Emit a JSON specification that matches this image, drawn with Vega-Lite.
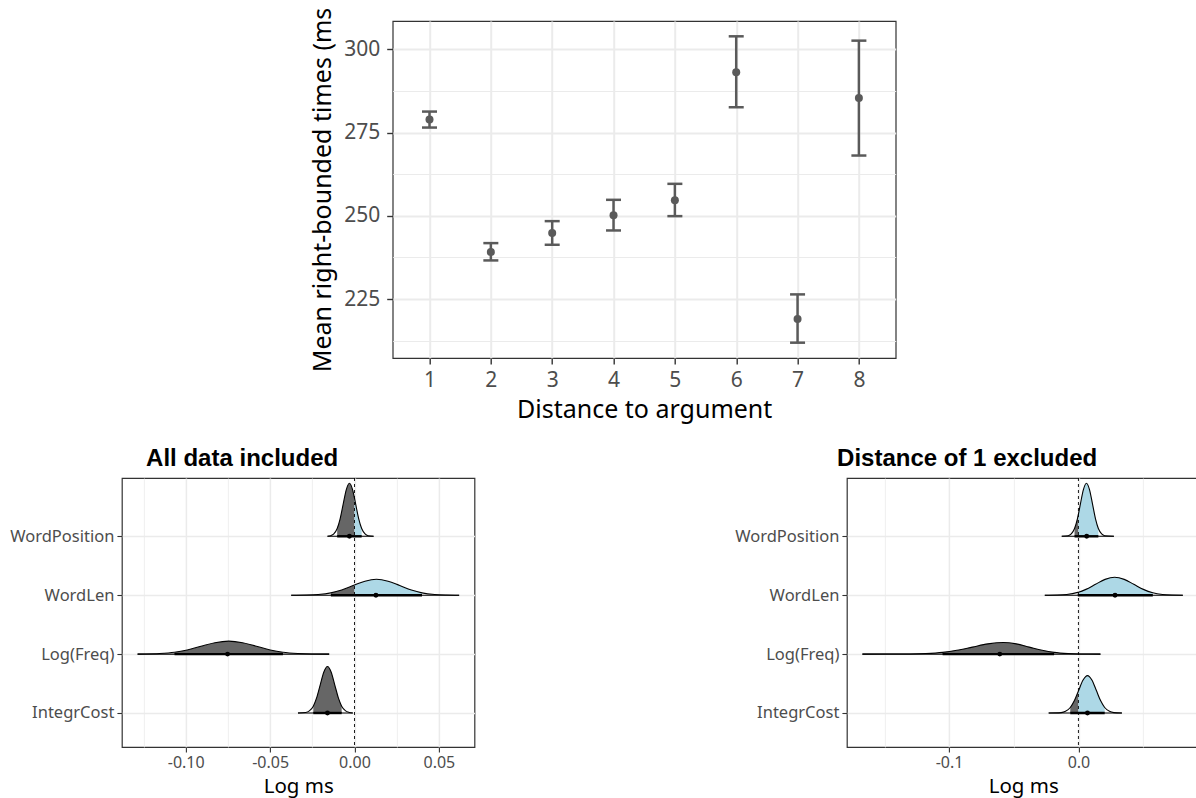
{
  "$schema": "https://vega.github.io/schema/vega-lite/v6.json",
  "background": "white",
  "padding": {"left": 8.5, "top": 6, "right": 0, "bottom": 0},
  "config": {
    "font": "Noto Sans",
    "view": {"stroke": "#333333", "strokeWidth": 1.2},
    "axis": {"domain": false, "tickColor": "#333333", "labelColor": "#4D4D4D", "titleColor": "#000000", "titleFontWeight": "normal", "gridColor": "#EBEBEB", "labelFont": "Noto Sans", "titleFont": "Noto Sans"},
    "title": {"font": "Liberation Sans", "fontWeight": "bold", "fontSize": 24, "color": "#000000", "anchor": "middle", "frame": "bounds", "offset": 7}
  },
  "datasets": {
    "means": [
      {"distance": 1, "mean": 278.9, "lower": 276.5, "upper": 281.3},
      {"distance": 2, "mean": 239.1, "lower": 236.6, "upper": 241.8},
      {"distance": 3, "mean": 244.8, "lower": 241.3, "upper": 248.4},
      {"distance": 4, "mean": 250.2, "lower": 245.6, "upper": 254.8},
      {"distance": 5, "mean": 254.7, "lower": 249.9, "upper": 259.6},
      {"distance": 6, "mean": 293.1, "lower": 282.6, "upper": 303.9},
      {"distance": 7, "mean": 219.0, "lower": 211.9, "upper": 226.4},
      {"distance": 8, "mean": 285.4, "lower": 268.1, "upper": 302.6}
    ],
    "curveL": [
      {"term": "WordPosition", "x": -0.016, "top": 4},
      {"term": "WordPosition", "x": -0.0141, "top": 4.01},
      {"term": "WordPosition", "x": -0.01225, "top": 4.04},
      {"term": "WordPosition", "x": -0.01025, "top": 4.132},
      {"term": "WordPosition", "x": -0.00855, "top": 4.292},
      {"term": "WordPosition", "x": -0.0067, "top": 4.546},
      {"term": "WordPosition", "x": -0.00485, "top": 4.794},
      {"term": "WordPosition", "x": -0.003, "top": 4.9},
      {"term": "WordPosition", "x": -0.00115, "top": 4.794},
      {"term": "WordPosition", "x": 0, "top": 4.648},
      {"term": "WordPosition", "x": 0.0007, "top": 4.546},
      {"term": "WordPosition", "x": 0.00255, "top": 4.292},
      {"term": "WordPosition", "x": 0.00425, "top": 4.132},
      {"term": "WordPosition", "x": 0.00625, "top": 4.04},
      {"term": "WordPosition", "x": 0.0081, "top": 4.01},
      {"term": "WordPosition", "x": 0.0113, "top": 4},
      {"term": "WordLen", "x": -0.0375, "top": 3},
      {"term": "WordLen", "x": -0.0284, "top": 3.003},
      {"term": "WordLen", "x": -0.0215, "top": 3.012},
      {"term": "WordLen", "x": -0.014, "top": 3.04},
      {"term": "WordLen", "x": -0.0076, "top": 3.088},
      {"term": "WordLen", "x": 0, "top": 3.173},
      {"term": "WordLen", "x": 0.0062, "top": 3.238},
      {"term": "WordLen", "x": 0.013, "top": 3.27},
      {"term": "WordLen", "x": 0.0199, "top": 3.238},
      {"term": "WordLen", "x": 0.0268, "top": 3.164},
      {"term": "WordLen", "x": 0.0337, "top": 3.088},
      {"term": "WordLen", "x": 0.04, "top": 3.04},
      {"term": "WordLen", "x": 0.0475, "top": 3.012},
      {"term": "WordLen", "x": 0.0544, "top": 3.003},
      {"term": "WordLen", "x": 0.062, "top": 3},
      {"term": "Log(Freq)", "x": -0.1285, "top": 2},
      {"term": "Log(Freq)", "x": -0.1237, "top": 2.002},
      {"term": "Log(Freq)", "x": -0.1155, "top": 2.01},
      {"term": "Log(Freq)", "x": -0.1066, "top": 2.032},
      {"term": "Log(Freq)", "x": -0.0991, "top": 2.071},
      {"term": "Log(Freq)", "x": -0.0909, "top": 2.133},
      {"term": "Log(Freq)", "x": -0.0827, "top": 2.194},
      {"term": "Log(Freq)", "x": -0.0745, "top": 2.22},
      {"term": "Log(Freq)", "x": -0.0663, "top": 2.194},
      {"term": "Log(Freq)", "x": -0.0581, "top": 2.133},
      {"term": "Log(Freq)", "x": -0.0499, "top": 2.071},
      {"term": "Log(Freq)", "x": -0.0424, "top": 2.032},
      {"term": "Log(Freq)", "x": -0.0335, "top": 2.01},
      {"term": "Log(Freq)", "x": -0.0253, "top": 2.002},
      {"term": "Log(Freq)", "x": -0.015, "top": 2},
      {"term": "IntegrCost", "x": -0.0335, "top": 1},
      {"term": "IntegrCost", "x": -0.0289, "top": 1.009},
      {"term": "IntegrCost", "x": -0.02675, "top": 1.035},
      {"term": "IntegrCost", "x": -0.0244, "top": 1.116},
      {"term": "IntegrCost", "x": -0.02245, "top": 1.257},
      {"term": "IntegrCost", "x": -0.0203, "top": 1.479},
      {"term": "IntegrCost", "x": -0.01815, "top": 1.697},
      {"term": "IntegrCost", "x": -0.016, "top": 1.79},
      {"term": "IntegrCost", "x": -0.01385, "top": 1.697},
      {"term": "IntegrCost", "x": -0.0117, "top": 1.479},
      {"term": "IntegrCost", "x": -0.00955, "top": 1.257},
      {"term": "IntegrCost", "x": -0.0076, "top": 1.116},
      {"term": "IntegrCost", "x": -0.00525, "top": 1.035},
      {"term": "IntegrCost", "x": -0.0031, "top": 1.009},
      {"term": "IntegrCost", "x": -0.001, "top": 1}
    ],
    "fillL": [
      {"term": "WordPosition", "side": "neg", "pos": 4, "x": -0.01025, "top": 4.132},
      {"term": "WordPosition", "side": "neg", "pos": 4, "x": -0.00855, "top": 4.292},
      {"term": "WordPosition", "side": "neg", "pos": 4, "x": -0.0067, "top": 4.546},
      {"term": "WordPosition", "side": "neg", "pos": 4, "x": -0.00485, "top": 4.794},
      {"term": "WordPosition", "side": "neg", "pos": 4, "x": -0.003, "top": 4.9},
      {"term": "WordPosition", "side": "neg", "pos": 4, "x": -0.00115, "top": 4.794},
      {"term": "WordPosition", "side": "neg", "pos": 4, "x": 0, "top": 4.648},
      {"term": "WordPosition", "side": "pos", "pos": 4, "x": 0, "top": 4.648},
      {"term": "WordPosition", "side": "pos", "pos": 4, "x": 0.0007, "top": 4.546},
      {"term": "WordPosition", "side": "pos", "pos": 4, "x": 0.00255, "top": 4.292},
      {"term": "WordPosition", "side": "pos", "pos": 4, "x": 0.00425, "top": 4.132},
      {"term": "WordLen", "side": "neg", "pos": 3, "x": -0.014, "top": 3.04},
      {"term": "WordLen", "side": "neg", "pos": 3, "x": -0.0076, "top": 3.088},
      {"term": "WordLen", "side": "neg", "pos": 3, "x": 0, "top": 3.173},
      {"term": "WordLen", "side": "pos", "pos": 3, "x": 0, "top": 3.173},
      {"term": "WordLen", "side": "pos", "pos": 3, "x": 0.0062, "top": 3.238},
      {"term": "WordLen", "side": "pos", "pos": 3, "x": 0.013, "top": 3.27},
      {"term": "WordLen", "side": "pos", "pos": 3, "x": 0.0199, "top": 3.238},
      {"term": "WordLen", "side": "pos", "pos": 3, "x": 0.0268, "top": 3.164},
      {"term": "WordLen", "side": "pos", "pos": 3, "x": 0.0337, "top": 3.088},
      {"term": "WordLen", "side": "pos", "pos": 3, "x": 0.04, "top": 3.04},
      {"term": "Log(Freq)", "side": "neg", "pos": 2, "x": -0.1066, "top": 2.032},
      {"term": "Log(Freq)", "side": "neg", "pos": 2, "x": -0.0991, "top": 2.071},
      {"term": "Log(Freq)", "side": "neg", "pos": 2, "x": -0.0909, "top": 2.133},
      {"term": "Log(Freq)", "side": "neg", "pos": 2, "x": -0.0827, "top": 2.194},
      {"term": "Log(Freq)", "side": "neg", "pos": 2, "x": -0.0745, "top": 2.22},
      {"term": "Log(Freq)", "side": "neg", "pos": 2, "x": -0.0663, "top": 2.194},
      {"term": "Log(Freq)", "side": "neg", "pos": 2, "x": -0.0581, "top": 2.133},
      {"term": "Log(Freq)", "side": "neg", "pos": 2, "x": -0.0499, "top": 2.071},
      {"term": "Log(Freq)", "side": "neg", "pos": 2, "x": -0.0424, "top": 2.032},
      {"term": "IntegrCost", "side": "neg", "pos": 1, "x": -0.0244, "top": 1.116},
      {"term": "IntegrCost", "side": "neg", "pos": 1, "x": -0.02245, "top": 1.257},
      {"term": "IntegrCost", "side": "neg", "pos": 1, "x": -0.0203, "top": 1.479},
      {"term": "IntegrCost", "side": "neg", "pos": 1, "x": -0.01815, "top": 1.697},
      {"term": "IntegrCost", "side": "neg", "pos": 1, "x": -0.016, "top": 1.79},
      {"term": "IntegrCost", "side": "neg", "pos": 1, "x": -0.01385, "top": 1.697},
      {"term": "IntegrCost", "side": "neg", "pos": 1, "x": -0.0117, "top": 1.479},
      {"term": "IntegrCost", "side": "neg", "pos": 1, "x": -0.00955, "top": 1.257},
      {"term": "IntegrCost", "side": "neg", "pos": 1, "x": -0.0076, "top": 1.116}
    ],
    "sumL": [
      {"term": "WordPosition", "pos": 4, "lo": -0.01025, "hi": 0.00425, "med": -0.003, "tmin": -0.016, "tmax": 0.0113},
      {"term": "WordLen", "pos": 3, "lo": -0.014, "hi": 0.04, "med": 0.0127, "tmin": -0.0375, "tmax": 0.062},
      {"term": "Log(Freq)", "pos": 2, "lo": -0.1066, "hi": -0.0424, "med": -0.0752, "tmin": -0.1285, "tmax": -0.015},
      {"term": "IntegrCost", "pos": 1, "lo": -0.0244, "hi": -0.0076, "med": -0.016, "tmin": -0.0335, "tmax": -0.001}
    ],
    "curveR": [
      {"term": "WordPosition", "x": -0.0129, "top": 4},
      {"term": "WordPosition", "x": -0.0079, "top": 4.01},
      {"term": "WordPosition", "x": -0.00555, "top": 4.04},
      {"term": "WordPosition", "x": -0.003, "top": 4.132},
      {"term": "WordPosition", "x": -0.00085, "top": 4.292},
      {"term": "WordPosition", "x": 0, "top": 4.377},
      {"term": "WordPosition", "x": 0.0015, "top": 4.546},
      {"term": "WordPosition", "x": 0.00385, "top": 4.794},
      {"term": "WordPosition", "x": 0.0062, "top": 4.9},
      {"term": "WordPosition", "x": 0.00855, "top": 4.794},
      {"term": "WordPosition", "x": 0.0109, "top": 4.546},
      {"term": "WordPosition", "x": 0.01325, "top": 4.292},
      {"term": "WordPosition", "x": 0.0154, "top": 4.132},
      {"term": "WordPosition", "x": 0.01795, "top": 4.04},
      {"term": "WordPosition", "x": 0.0203, "top": 4.01},
      {"term": "WordPosition", "x": 0.0274, "top": 4},
      {"term": "WordLen", "x": -0.026, "top": 3},
      {"term": "WordLen", "x": -0.0164, "top": 3.003},
      {"term": "WordLen", "x": -0.009, "top": 3.013},
      {"term": "WordLen", "x": -0.0005, "top": 3.048},
      {"term": "WordLen", "x": 0, "top": 3.051},
      {"term": "WordLen", "x": 0.0058, "top": 3.099},
      {"term": "WordLen", "x": 0.0132, "top": 3.185},
      {"term": "WordLen", "x": 0.0206, "top": 3.269},
      {"term": "WordLen", "x": 0.028, "top": 3.305},
      {"term": "WordLen", "x": 0.0354, "top": 3.269},
      {"term": "WordLen", "x": 0.0428, "top": 3.185},
      {"term": "WordLen", "x": 0.0502, "top": 3.099},
      {"term": "WordLen", "x": 0.0575, "top": 3.042},
      {"term": "WordLen", "x": 0.065, "top": 3.013},
      {"term": "WordLen", "x": 0.0724, "top": 3.003},
      {"term": "WordLen", "x": 0.0807, "top": 3},
      {"term": "Log(Freq)", "x": -0.167, "top": 2},
      {"term": "Log(Freq)", "x": -0.148, "top": 2.001},
      {"term": "Log(Freq)", "x": -0.13, "top": 2.002},
      {"term": "Log(Freq)", "x": -0.118, "top": 2.009},
      {"term": "Log(Freq)", "x": -0.105, "top": 2.029},
      {"term": "Log(Freq)", "x": -0.094, "top": 2.064},
      {"term": "Log(Freq)", "x": -0.082, "top": 2.119},
      {"term": "Log(Freq)", "x": -0.07, "top": 2.174},
      {"term": "Log(Freq)", "x": -0.058, "top": 2.197},
      {"term": "Log(Freq)", "x": -0.048, "top": 2.174},
      {"term": "Log(Freq)", "x": -0.038, "top": 2.119},
      {"term": "Log(Freq)", "x": -0.028, "top": 2.064},
      {"term": "Log(Freq)", "x": -0.0188, "top": 2.029},
      {"term": "Log(Freq)", "x": -0.008, "top": 2.009},
      {"term": "Log(Freq)", "x": 0.002, "top": 2.002},
      {"term": "Log(Freq)", "x": 0.017, "top": 2},
      {"term": "IntegrCost", "x": -0.023, "top": 1},
      {"term": "IntegrCost", "x": -0.0134, "top": 1.007},
      {"term": "IntegrCost", "x": -0.01, "top": 1.028},
      {"term": "IntegrCost", "x": -0.0063, "top": 1.093},
      {"term": "IntegrCost", "x": -0.0032, "top": 1.206},
      {"term": "IntegrCost", "x": 0, "top": 1.374},
      {"term": "IntegrCost", "x": 0.0036, "top": 1.56},
      {"term": "IntegrCost", "x": 0.007, "top": 1.635},
      {"term": "IntegrCost", "x": 0.0104, "top": 1.56},
      {"term": "IntegrCost", "x": 0.0138, "top": 1.385},
      {"term": "IntegrCost", "x": 0.0172, "top": 1.206},
      {"term": "IntegrCost", "x": 0.0203, "top": 1.093},
      {"term": "IntegrCost", "x": 0.024, "top": 1.028},
      {"term": "IntegrCost", "x": 0.0274, "top": 1.007},
      {"term": "IntegrCost", "x": 0.0336, "top": 1}
    ],
    "fillR": [
      {"term": "WordPosition", "side": "neg", "pos": 4, "x": -0.003, "top": 4.132},
      {"term": "WordPosition", "side": "neg", "pos": 4, "x": -0.00085, "top": 4.292},
      {"term": "WordPosition", "side": "neg", "pos": 4, "x": 0, "top": 4.377},
      {"term": "WordPosition", "side": "pos", "pos": 4, "x": 0, "top": 4.377},
      {"term": "WordPosition", "side": "pos", "pos": 4, "x": 0.0015, "top": 4.546},
      {"term": "WordPosition", "side": "pos", "pos": 4, "x": 0.00385, "top": 4.794},
      {"term": "WordPosition", "side": "pos", "pos": 4, "x": 0.0062, "top": 4.9},
      {"term": "WordPosition", "side": "pos", "pos": 4, "x": 0.00855, "top": 4.794},
      {"term": "WordPosition", "side": "pos", "pos": 4, "x": 0.0109, "top": 4.546},
      {"term": "WordPosition", "side": "pos", "pos": 4, "x": 0.01325, "top": 4.292},
      {"term": "WordPosition", "side": "pos", "pos": 4, "x": 0.0154, "top": 4.132},
      {"term": "WordLen", "side": "neg", "pos": 3, "x": -0.0005, "top": 3.048},
      {"term": "WordLen", "side": "neg", "pos": 3, "x": 0, "top": 3.051},
      {"term": "WordLen", "side": "pos", "pos": 3, "x": 0, "top": 3.051},
      {"term": "WordLen", "side": "pos", "pos": 3, "x": 0.0058, "top": 3.099},
      {"term": "WordLen", "side": "pos", "pos": 3, "x": 0.0132, "top": 3.185},
      {"term": "WordLen", "side": "pos", "pos": 3, "x": 0.0206, "top": 3.269},
      {"term": "WordLen", "side": "pos", "pos": 3, "x": 0.028, "top": 3.305},
      {"term": "WordLen", "side": "pos", "pos": 3, "x": 0.0354, "top": 3.269},
      {"term": "WordLen", "side": "pos", "pos": 3, "x": 0.0428, "top": 3.185},
      {"term": "WordLen", "side": "pos", "pos": 3, "x": 0.0502, "top": 3.099},
      {"term": "WordLen", "side": "pos", "pos": 3, "x": 0.0575, "top": 3.042},
      {"term": "Log(Freq)", "side": "neg", "pos": 2, "x": -0.105, "top": 2.029},
      {"term": "Log(Freq)", "side": "neg", "pos": 2, "x": -0.094, "top": 2.064},
      {"term": "Log(Freq)", "side": "neg", "pos": 2, "x": -0.082, "top": 2.119},
      {"term": "Log(Freq)", "side": "neg", "pos": 2, "x": -0.07, "top": 2.174},
      {"term": "Log(Freq)", "side": "neg", "pos": 2, "x": -0.058, "top": 2.197},
      {"term": "Log(Freq)", "side": "neg", "pos": 2, "x": -0.048, "top": 2.174},
      {"term": "Log(Freq)", "side": "neg", "pos": 2, "x": -0.038, "top": 2.119},
      {"term": "Log(Freq)", "side": "neg", "pos": 2, "x": -0.028, "top": 2.064},
      {"term": "Log(Freq)", "side": "neg", "pos": 2, "x": -0.0188, "top": 2.029},
      {"term": "IntegrCost", "side": "neg", "pos": 1, "x": -0.0063, "top": 1.093},
      {"term": "IntegrCost", "side": "neg", "pos": 1, "x": -0.0032, "top": 1.206},
      {"term": "IntegrCost", "side": "neg", "pos": 1, "x": 0, "top": 1.374},
      {"term": "IntegrCost", "side": "pos", "pos": 1, "x": 0, "top": 1.374},
      {"term": "IntegrCost", "side": "pos", "pos": 1, "x": 0.0036, "top": 1.56},
      {"term": "IntegrCost", "side": "pos", "pos": 1, "x": 0.007, "top": 1.635},
      {"term": "IntegrCost", "side": "pos", "pos": 1, "x": 0.0104, "top": 1.56},
      {"term": "IntegrCost", "side": "pos", "pos": 1, "x": 0.0138, "top": 1.385},
      {"term": "IntegrCost", "side": "pos", "pos": 1, "x": 0.0172, "top": 1.206},
      {"term": "IntegrCost", "side": "pos", "pos": 1, "x": 0.0203, "top": 1.093}
    ],
    "sumR": [
      {"term": "WordPosition", "pos": 4, "lo": -0.003, "hi": 0.0154, "med": 0.0064, "tmin": -0.0129, "tmax": 0.0274},
      {"term": "WordLen", "pos": 3, "lo": -0.0005, "hi": 0.0575, "med": 0.0283, "tmin": -0.026, "tmax": 0.0807},
      {"term": "Log(Freq)", "pos": 2, "lo": -0.105, "hi": -0.0188, "med": -0.0608, "tmin": -0.167, "tmax": 0.017},
      {"term": "IntegrCost", "pos": 1, "lo": -0.0063, "hi": 0.0203, "med": 0.007, "tmin": -0.023, "tmax": 0.0336}
    ]
  },
  "spacing": 22,
  "center": true,
  "vconcat": [
    {
      "width": 503,
      "height": 337,
      "data": {"name": "means"},
      "layer": [
        {
          "mark": {"type": "rule", "color": "#5a5a5a", "strokeWidth": 2.5},
          "encoding": {
            "x": {"field": "distance", "type": "quantitative", "scale": {"domain": [0.4, 8.6], "nice": false, "zero": false},
              "axis": {"values": [1, 2, 3, 4, 5, 6, 7, 8], "format": "d", "title": "Distance to argument", "grid": true, "gridWidth": 2, "labelFontSize": 21, "titleFontSize": 25, "tickSize": 6, "tickWidth": 1.4, "labelPadding": 5, "titlePadding": 7}},
            "y": {"field": "lower", "type": "quantitative", "scale": {"domain": [207.3, 308.5], "nice": false, "zero": false},
              "axis": {"values": [225, 250, 275, 300], "title": "Mean right-bounded times (ms", "grid": true, "gridWidth": 2, "labelFontSize": 21, "titleFontSize": 25, "tickSize": 6, "tickWidth": 1.4, "labelPadding": 7, "titleX": -57, "titleBaseline": "bottom", "titleAngle": 270}},
            "y2": {"field": "upper"}
          }
        },
        {
          "mark": {"type": "tick", "orient": "horizontal", "size": 15, "thickness": 2.5, "color": "#5a5a5a", "opacity": 1},
          "encoding": {
            "x": {"field": "distance", "type": "quantitative"},
            "y": {"field": "upper", "type": "quantitative",
              "axis": {"orient": "right", "minExtent": 33, "maxExtent": 33, "labels": false, "ticks": false, "domain": false, "grid": false, "title": null}}
          }
        },
        {
          "mark": {"type": "tick", "orient": "horizontal", "size": 15, "thickness": 2.5, "color": "#5a5a5a", "opacity": 1},
          "encoding": {
            "x": {"field": "distance", "type": "quantitative"},
            "y": {"field": "lower", "type": "quantitative", "axis": null}
          }
        },
        {
          "mark": {"type": "circle", "size": 64, "opacity": 1, "color": "#5a5a5a"},
          "encoding": {
            "x": {"field": "distance", "type": "quantitative"},
            "y": {"field": "mean", "type": "quantitative",
              "axis": {"orient": "left", "values": [212.5, 237.5, 262.5, 287.5], "grid": true, "gridWidth": 1, "labels": false, "ticks": false, "domain": false, "title": null}}
          }
        }
      ],
      "resolve": {"axis": {"y": "independent"}}
    },
    {
      "spacing": 258,
      "resolve": {"scale": {"x": "independent", "y": "independent"}},
      "hconcat": [
        {
          "width": 352.6,
          "height": 269,
          "title": {"text": "All data included"},
          "layer": [
            {
              "data": {"name": "fillL"},
              "mark": {"type": "area", "interpolate": "monotone"},
              "encoding": {
                "x": {"field": "x", "type": "quantitative", "scale": {"domain": [-0.1378, 0.0711], "nice": false, "zero": false},
                  "axis": {"values": [-0.1, -0.05, 0, 0.05], "format": ".2f", "labelExpr": "replace(datum.label, '−', '-')", "title": "Log ms", "grid": true, "gridWidth": 1.5, "labelFontSize": 16, "titleFontSize": 20.5, "tickSize": 5, "tickWidth": 1.1, "labelPadding": 2, "titlePadding": 6}},
                "y": {"field": "top", "type": "quantitative", "scale": {"domain": [0.4227, 4.99], "nice": false, "zero": false},
                  "axis": {"values": [1, 2, 3, 4], "labelExpr": "datum.value == 1 ? 'IntegrCost' : datum.value == 2 ? 'Log(Freq)' : datum.value == 3 ? 'WordLen' : 'WordPosition'", "title": null, "grid": true, "gridWidth": 1.5, "labelFontSize": 16.5, "tickSize": 5, "tickWidth": 1.1, "labelPadding": 3}},
                "y2": {"field": "pos"},
                "color": {"field": "side", "type": "nominal", "scale": {"domain": ["neg", "pos"], "range": ["#666666", "#ADD8E6"]}, "legend": null},
                "detail": {"field": "term"}
              }
            },
            {
              "data": {"name": "sumL"},
              "mark": {"type": "rule", "color": "#000000", "strokeWidth": 1.1},
              "encoding": {
                "x": {"field": "tmin", "type": "quantitative", "axis": null},
                "x2": {"field": "tmax"},
                "y": {"field": "pos", "type": "quantitative", "axis": null}
              }
            },
            {
              "data": {"name": "curveL"},
              "mark": {"type": "line", "interpolate": "monotone", "color": "#000000", "strokeWidth": 1.1},
              "encoding": {
                "x": {"field": "x", "type": "quantitative",
                  "axis": {"values": [-0.125, -0.075, -0.025, 0.025], "grid": true, "gridWidth": 0.8, "labels": false, "ticks": false, "domain": false, "title": null}},
                "y": {"field": "top", "type": "quantitative", "axis": null},
                "detail": {"field": "term"}
              }
            },
            {
              "data": {"name": "sumL"},
              "mark": {"type": "rule", "color": "#000000", "strokeWidth": 2.4},
              "encoding": {
                "x": {"field": "lo", "type": "quantitative", "axis": null},
                "x2": {"field": "hi"},
                "y": {"field": "pos", "type": "quantitative", "axis": null}
              }
            },
            {
              "data": {"name": "sumL"},
              "mark": {"type": "circle", "size": 24, "color": "#000000", "opacity": 1},
              "encoding": {
                "x": {"field": "med", "type": "quantitative", "axis": null},
                "y": {"field": "pos", "type": "quantitative", "axis": null}
              }
            },
            {
              "data": {"values": [{"zero": 0}]},
              "mark": {"type": "rule", "color": "#000000", "strokeWidth": 0.9, "strokeDash": [3, 3]},
              "encoding": {
                "x": {"field": "zero", "type": "quantitative", "axis": null}
              }
            }
          ],
          "resolve": {"axis": {"x": "independent", "y": "independent"}}
        },
        {
          "width": 352.6,
          "height": 269,
          "title": {"text": "Distance of 1 excluded"},
          "layer": [
            {
              "data": {"name": "fillR"},
              "mark": {"type": "area", "interpolate": "monotone"},
              "encoding": {
                "x": {"field": "x", "type": "quantitative", "scale": {"domain": [-0.179, 0.0936], "nice": false, "zero": false},
                  "axis": {"values": [-0.1, 0], "format": ".1f", "labelExpr": "replace(datum.label, '−', '-')", "title": "Log ms", "grid": true, "gridWidth": 1.5, "labelFontSize": 16, "titleFontSize": 20.5, "tickSize": 5, "tickWidth": 1.1, "labelPadding": 2, "titlePadding": 6}},
                "y": {"field": "top", "type": "quantitative", "scale": {"domain": [0.4227, 4.99], "nice": false, "zero": false},
                  "axis": {"values": [1, 2, 3, 4], "labelExpr": "datum.value == 1 ? 'IntegrCost' : datum.value == 2 ? 'Log(Freq)' : datum.value == 3 ? 'WordLen' : 'WordPosition'", "title": null, "grid": true, "gridWidth": 1.5, "labelFontSize": 16.5, "tickSize": 5, "tickWidth": 1.1, "labelPadding": 3}},
                "y2": {"field": "pos"},
                "color": {"field": "side", "type": "nominal", "scale": {"domain": ["neg", "pos"], "range": ["#666666", "#ADD8E6"]}, "legend": null},
                "detail": {"field": "term"}
              }
            },
            {
              "data": {"name": "sumR"},
              "mark": {"type": "rule", "color": "#000000", "strokeWidth": 1.1},
              "encoding": {
                "x": {"field": "tmin", "type": "quantitative", "axis": null},
                "x2": {"field": "tmax"},
                "y": {"field": "pos", "type": "quantitative", "axis": null}
              }
            },
            {
              "data": {"name": "curveR"},
              "mark": {"type": "line", "interpolate": "monotone", "color": "#000000", "strokeWidth": 1.1},
              "encoding": {
                "x": {"field": "x", "type": "quantitative",
                  "axis": {"values": [-0.15, -0.05, 0.05], "grid": true, "gridWidth": 0.8, "labels": false, "ticks": false, "domain": false, "title": null}},
                "y": {"field": "top", "type": "quantitative", "axis": null},
                "detail": {"field": "term"}
              }
            },
            {
              "data": {"name": "sumR"},
              "mark": {"type": "rule", "color": "#000000", "strokeWidth": 2.4},
              "encoding": {
                "x": {"field": "lo", "type": "quantitative", "axis": null},
                "x2": {"field": "hi"},
                "y": {"field": "pos", "type": "quantitative", "axis": null}
              }
            },
            {
              "data": {"name": "sumR"},
              "mark": {"type": "circle", "size": 24, "color": "#000000", "opacity": 1},
              "encoding": {
                "x": {"field": "med", "type": "quantitative", "axis": null},
                "y": {"field": "pos", "type": "quantitative", "axis": null}
              }
            },
            {
              "data": {"values": [{"zero": 0}]},
              "mark": {"type": "rule", "color": "#000000", "strokeWidth": 0.9, "strokeDash": [3, 3]},
              "encoding": {
                "x": {"field": "zero", "type": "quantitative", "axis": null}
              }
            }
          ],
          "resolve": {"axis": {"x": "independent", "y": "independent"}}
        }
      ]
    }
  ]
}
